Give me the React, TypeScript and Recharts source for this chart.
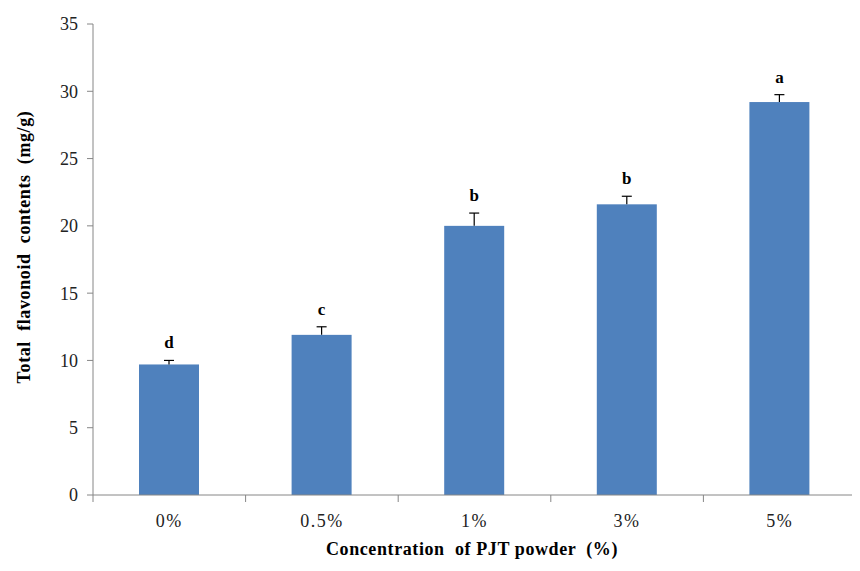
import { BarChart, Bar, XAxis, YAxis } from "recharts";

const categories = ["0%", "0.5%", "1%", "3%", "5%"];
const means = [9.7, 11.9, 20.0, 21.6, 29.2];
const errors = [0.3, 0.6, 0.95, 0.6, 0.55];
const letters = ["d", "c", "b", "b", "a"];
const yTicks = [0, 5, 10, 15, 20, 25, 30, 35];

const W = 860;
const H = 571;
const LEFT = 93;
const RIGHT = 4;
const BAND = (W - LEFT - RIGHT) / categories.length;
const FONT = "'Liberation Serif', 'Times New Roman', serif";
const AXIS = "#868686";

const data = categories.map((c, i) => ({
  name: c,
  mean: means[i],
  err: errors[i],
  letter: letters[i],
}));

// bar plus upward error whisker and significance letter
const BarWithError = (props: any) => {
  const { x, y, width, height, payload } = props;
  const pxPerUnit = height / payload.mean;
  const cx = x + width / 2;
  const top = y - payload.err * pxPerUnit;
  return (
    <g>
      <rect x={x} y={y} width={width} height={height} fill="#4F81BD" />
      <line x1={cx} y1={y} x2={cx} y2={top} stroke="#000" strokeWidth={1.2} />
      <line x1={cx - 5} y1={top} x2={cx + 5} y2={top} stroke="#000" strokeWidth={1.2} />
      <text
        x={cx}
        y={top - 12}
        textAnchor="middle"
        fontFamily={FONT}
        fontWeight="bold"
        fontSize={17}
        fill="#000"
      >
        {payload.letter}
      </text>
    </g>
  );
};

const XTick = (props: any) => {
  const { x, y, payload, index } = props;
  const last = index === categories.length - 1;
  return (
    <g>
      <line x1={x - BAND / 2} y1={y} x2={x - BAND / 2} y2={y + 7} stroke={AXIS} />
      {last && <line x1={x + BAND / 2} y1={y} x2={x + BAND / 2} y2={y + 7} stroke={AXIS} />}
      <text
        x={x}
        y={y + 32}
        textAnchor="middle"
        fontFamily={FONT}
        fontSize={18}
        letterSpacing={1.5}
        fill="#222"
      >
        {payload.value}
      </text>
    </g>
  );
};

export default function App() {
  return (
    <div style={{ margin: -8, background: "#fff", width: W, height: H }}>
      <BarChart
        width={W}
        height={H}
        data={data}
        margin={{ top: 24, right: RIGHT, bottom: 0, left: 0 }}
      >
        <XAxis
          dataKey="name"
          height={76}
          stroke={AXIS}
          tickLine={false}
          tickSize={0}
          tickMargin={0}
          tick={<XTick />}
          interval={0}
          label={{
            content: () => (
              <text
                x={472}
                y={555}
                textAnchor="middle"
                fontFamily={FONT}
                fontWeight="bold"
                fontSize={18}
                letterSpacing={0.6}
                fill="#000"
                style={{ whiteSpace: "pre" }}
              >
                {"Concentration  of PJT powder  (%)"}
              </text>
            ),
          }}
        />
        <YAxis
          width={LEFT}
          domain={[0, 35]}
          ticks={yTicks}
          stroke={AXIS}
          tickSize={6}
          tickMargin={9}
          tick={{ fontFamily: FONT, fontSize: 18, fill: "#222" }}
          label={{
            content: () => (
              <text
                x={0}
                y={0}
                transform="translate(30,247) rotate(-90)"
                textAnchor="middle"
                fontFamily={FONT}
                fontWeight="bold"
                fontSize={18}
                letterSpacing={0.6}
                fill="#000"
                style={{ whiteSpace: "pre" }}
              >
                {"Total  flavonoid  contents  (mg/g)"}
              </text>
            ),
          }}
        />
        <Bar dataKey="mean" barSize={60} shape={<BarWithError />} isAnimationActive={false} />
      </BarChart>
    </div>
  );
}
